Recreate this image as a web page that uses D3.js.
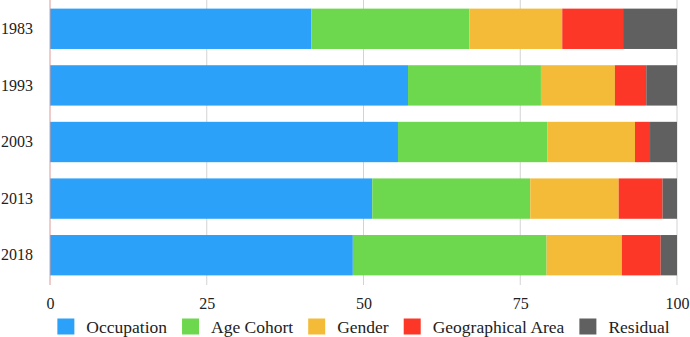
<!DOCTYPE html>
<html>
<head>
<meta charset="utf-8">
<script src="https://cdn.jsdelivr.net/npm/d3@7"></script>
<style>
  body { margin: 0; background: #fff; }
  svg { display: block; }
</style>
</head>
<body>
<div id="chart"></div>
<script>
// categories (years) and stacked series, shares in percent
const years = ['1983', '1993', '2003', '2013', '2018'];
const seriesNames = ['Occupation', 'Age Cohort', 'Gender', 'Geographical Area', 'Residual'];
const occupation = [41.7, 57.1, 55.5, 51.4, 48.3];
const ageCohort  = [25.2, 21.2, 23.8, 25.2, 30.9];
const gender     = [14.8, 11.8, 14.0, 14.1, 12.0];
const geoArea    = [9.7, 5.0, 2.4, 7.0, 6.2];
const residual   = [8.6, 4.9, 4.3, 2.3, 2.6];
const xTicks = [0, 25, 50, 75, 100];
const colors = ['#2ca1f9', '#6dd84e', '#f4bb38', '#fc3727', '#606060'];

const width = 690, height = 337;
const margin = {top: 0, right: 13, bottom: 52, left: 50};
const fontFamily = '"Liberation Serif", "Times New Roman", serif';

// build the table for d3.stack
const table = years.map((y, i) => ({
    year: y,
    'Occupation': occupation[i],
    'Age Cohort': ageCohort[i],
    'Gender': gender[i],
    'Geographical Area': geoArea[i],
    'Residual': residual[i]
}));

const svg = d3.select('#chart').append('svg')
    .attr('width', width)
    .attr('height', height)
    .attr('font-family', fontFamily);

const x = d3.scaleLinear([0, 100], [margin.left, width - margin.right]);
const y = d3.scaleBand(years, [0.5, height - margin.bottom - 1.5])
    .paddingInner(0.287).paddingOuter(0.1435);
const color = d3.scaleOrdinal(seriesNames, colors);

// gridlines
svg.append('g')
    .selectAll('line')
    .data(xTicks.slice(1))
    .join('line')
    .attr('x1', d => x(d)).attr('x2', d => x(d))
    .attr('y1', 0).attr('y2', height - margin.bottom)
    .attr('stroke', '#d3d3d3')
    .attr('stroke-width', 1);

// stacked bars
const stacked = d3.stack().keys(seriesNames)(table);
svg.append('g')
    .selectAll('g')
    .data(stacked)
    .join('g')
    .attr('fill', d => color(d.key))
    .selectAll('rect')
    .data(d => d)
    .join('rect')
    .attr('x', d => x(d[0]))
    .attr('y', d => y(d.data.year))
    .attr('width', d => x(d[1]) - x(d[0]))
    .attr('height', y.bandwidth());

// left axis line
svg.append('line')
    .attr('x1', x(0)).attr('x2', x(0))
    .attr('y1', 0).attr('y2', height - margin.bottom)
    .attr('stroke', '#dc9a95')
    .attr('stroke-width', 1);

// y axis labels
const axisY = svg.append('g')
    .attr('transform', `translate(${margin.left},0)`)
    .call(d3.axisLeft(y).tickSize(0).tickPadding(17));
axisY.attr('font-family', fontFamily).attr('font-size', 16);
axisY.select('.domain').remove();
axisY.selectAll('text').attr('fill', '#222');

// x axis labels
const axisX = svg.append('g')
    .attr('transform', `translate(0,${height - margin.bottom})`)
    .call(d3.axisBottom(x).tickValues(xTicks).tickSize(0).tickPadding(13));
axisX.attr('font-family', fontFamily).attr('font-size', 16);
axisX.select('.domain').remove();
axisX.selectAll('text').attr('fill', '#222');

// legend, centred under the plot
const legend = svg.append('g')
    .attr('font-family', fontFamily)
    .attr('font-size', 17.5);
const items = legend.selectAll('g')
    .data(seriesNames)
    .join('g');
items.append('rect')
    .attr('width', 17).attr('height', 16)
    .attr('y', 318.5)
    .attr('fill', d => color(d));
items.append('text')
    .attr('x', 29)
    .attr('y', 332.5)
    .attr('fill', '#222')
    .text(d => d);
let offset = 0;
items.each(function () {
    const w = d3.select(this).select('text').node().getComputedTextLength();
    d3.select(this).attr('transform', `translate(${offset},0)`);
    offset += 29 + w + 15;
});
const legendW = offset - 15;
legend.attr('transform', `translate(${(x(0) + x(100)) / 2 - legendW / 2},0)`);
</script>
</body>
</html>
